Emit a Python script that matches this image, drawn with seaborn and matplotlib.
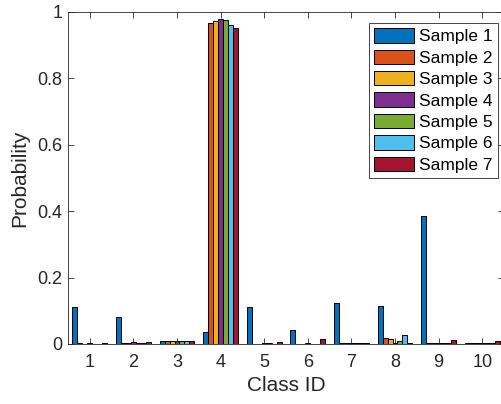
import matplotlib
matplotlib.use("Agg")
import matplotlib.pyplot as plt
import seaborn as sns
import pandas as pd

class_ids = ["1", "2", "3", "4", "5", "6", "7", "8", "9", "10"]
sample_names = ["Sample 1", "Sample 2", "Sample 3", "Sample 4",
                "Sample 5", "Sample 6", "Sample 7"]
sample_1 = [0.112, 0.082, 0.010, 0.037, 0.110, 0.042, 0.124, 0.114, 0.385, 0.003]
sample_2 = [0.002, 0.003, 0.010, 0.968, 0.001, 0.001, 0.002, 0.017, 0.002, 0.003]
sample_3 = [0.001, 0.003, 0.010, 0.973, 0.001, 0.001, 0.002, 0.016, 0.002, 0.002]
sample_4 = [0.002, 0.006, 0.010, 0.978, 0.002, 0.002, 0.003, 0.004, 0.004, 0.002]
sample_5 = [0.001, 0.003, 0.010, 0.977, 0.002, 0.001, 0.002, 0.009, 0.003, 0.002]
sample_6 = [0.001, 0.002, 0.010, 0.961, 0.001, 0.001, 0.002, 0.027, 0.002, 0.002]
sample_7 = [0.002, 0.006, 0.010, 0.953, 0.006, 0.014, 0.003, 0.003, 0.012, 0.008]
colors = ["#0072BD", "#D95319", "#EDB120", "#7E2F8E", "#77AC30", "#4DBEEE", "#A2142F"]

series = [sample_1, sample_2, sample_3, sample_4, sample_5, sample_6, sample_7]
rows = []
for name, vals in zip(sample_names, series):
    for cid, v in zip(class_ids, vals):
        rows.append({"Class ID": cid, "Sample": name, "Probability": v})
df = pd.DataFrame(rows)

sns.set_theme(style="ticks")
plt.rcParams["font.family"] = ["Liberation Sans", "DejaVu Sans"]
text_color = "#262626"

fig = plt.figure(figsize=(5.01, 4.04), dpi=100)
ax = fig.add_axes([68 / 501, 60 / 404, 436 / 501, 332 / 404])

sns.barplot(data=df, x="Class ID", y="Probability", hue="Sample",
            order=class_ids, hue_order=sample_names, palette=colors,
            saturation=1, width=0.8, gap=0, edgecolor="black", linewidth=0.7,
            errorbar=None, ax=ax)

ax.set_xlim(-0.5, 9.5)
ax.set_ylim(0, 1)
ax.set_yticks([0, 0.2, 0.4, 0.6, 0.8, 1.0])
ax.set_yticklabels(["0", "0.2", "0.4", "0.6", "0.8", "1"])
ax.tick_params(direction="in", length=4, width=0.6, colors=text_color,
               labelsize=13, top=True, right=True)
ax.tick_params(axis="x", pad=7)
ax.tick_params(axis="y", pad=4)
for sp in ax.spines.values():
    sp.set_visible(True)
    sp.set_linewidth(0.6)
    sp.set_color(text_color)
ax.set_xlabel("Class ID", fontsize=15, color=text_color, labelpad=4)
ax.set_ylabel("Probability", fontsize=15, color=text_color, labelpad=6)

leg = ax.legend(loc="upper left", bbox_to_anchor=(369 / 501, 1 - 23 / 404),
                bbox_transform=fig.transFigure, fontsize=12.5,
                frameon=True, fancybox=False, framealpha=1,
                edgecolor=text_color, handlelength=2.3, handleheight=0.9,
                labelspacing=0.3, handletextpad=0.3, borderpad=0.3,
                borderaxespad=0)
leg.get_frame().set_linewidth(0.6)
for t in leg.get_texts():
    t.set_color("black")

fig.savefig("out.png", dpi=100)
